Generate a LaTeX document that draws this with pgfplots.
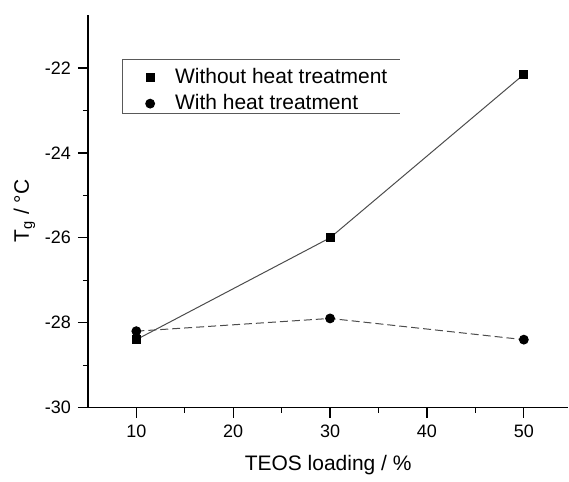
\documentclass[border=0pt]{standalone}
\usepackage{fontspec}
\setmainfont{Liberation Sans}
\usepackage{pgfplots}
\pgfplotsset{compat=1.18}

\begin{document}
\begin{tikzpicture}
\begin{axis}[
  scale only axis,
  width=240.5pt, height=196.5pt,
  xmin=5, xmax=54.6, ymin=-30, ymax=-20.75,
  axis x line=bottom, axis y line=left,
  axis line style={-, line width=0.6pt},
  xtick={10,20,30,40,50}, ytick={-30,-28,-26,-24,-22},
  minor x tick num=1, minor y tick num=1,
  tick align=outside,
  major tick length=5pt, minor tick length=2.5pt,
  tick style={line width=0.6pt, black},
  /pgf/number format/assume math mode=true,
  tick label style={font=\fontsize{9}{10}\selectfont},
  xlabel={TEOS loading / \%},
  ylabel={T\textsubscript{g} / °C},
  xlabel style={yshift=-2pt},
  ylabel style={yshift=-2pt},
  label style={font=\fontsize{10.5}{12}\selectfont},
  legend style={draw=none, fill=none, at={(axis cs:8.6,-21.81)}, anchor=north west,
    font=\fontsize{10.5}{12}\selectfont, inner xsep=0pt, inner ysep=2pt, row sep=0pt},
  legend cell align=left,
  legend image code/.code={\path[draw=none] (0pt,0pt) rectangle (24pt,0pt);
    \draw[#1] plot coordinates {(13.5pt,0pt)};},
]
\addplot[gray!60!black, line width=0.5pt, mark=square*, mark size=2pt,
  mark options={solid, fill=black, draw=black}]
  coordinates {(10,-28.4) (30,-26.0) (50,-22.15)};
\addplot[gray!60!black, line width=0.5pt, dash pattern=on 4pt off 2pt, mark=*, mark size=2.2pt,
  mark options={solid, fill=black, draw=black}]
  coordinates {(10,-28.2) (30,-27.9) (50,-28.4)};
\legend{Without heat treatment, With heat treatment}
\draw[gray!70!black, line width=0.5pt] (axis cs:37.2,-21.81) -| (axis cs:8.6,-23.08) -- (axis cs:37.2,-23.08);
\end{axis}
\path ([xshift=-44pt,yshift=-32pt]current axis.south west) rectangle ([yshift=7.5pt]current axis.north east);
\end{tikzpicture}
\end{document}
